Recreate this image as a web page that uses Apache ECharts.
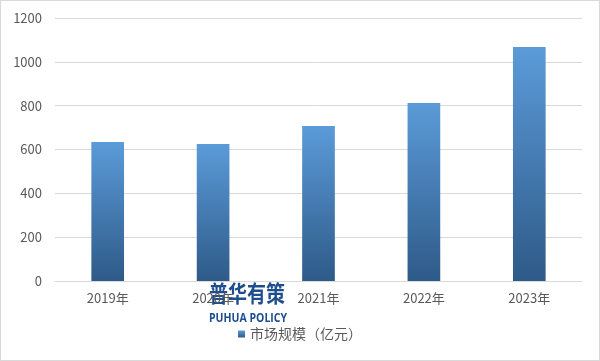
<!DOCTYPE html>
<html><head><meta charset="utf-8">
<script src="https://cdn.jsdelivr.net/npm/echarts@6/dist/echarts.min.js"></script>
<style>html,body{margin:0;padding:0;background:#fff}#c{width:600px;height:361px;box-sizing:border-box;border:1px solid #d9d9d9}</style>
</head><body><div id="c"></div>
<script>
var categories = ['2019年','2020年','2021年','2022年','2023年'];
var values = [634, 625, 707, 812, 1068];
var seriesName = '市场规模（亿元）';
var chart = echarts.init(document.getElementById('c'));
var font = '"Microsoft YaHei","Noto Sans CJK SC",sans-serif';
chart.setOption({
  animation:false,
  grid:{left:54,right:17,top:17,bottom:79},
  xAxis:{type:'category',data:categories,
    axisLine:{lineStyle:{color:'#d9d9d9'}},axisTick:{show:false},
    axisLabel:{color:'#595959',fontSize:13,margin:11,fontFamily:font}},
  yAxis:{type:'value',min:0,max:1200,interval:200,
    axisLine:{show:false},axisTick:{show:false},
    splitLine:{lineStyle:{color:'#d9d9d9'}},
    axisLabel:{color:'#595959',fontSize:13,margin:13,fontFamily:font,formatter:function(v){return String(v);}}},
  legend:{bottom:14,left:'center',itemWidth:7,itemHeight:7,icon:'rect',itemGap:5,
    textStyle:{color:'#595959',fontSize:14,fontFamily:font},data:[seriesName]},
  series:[{name:seriesName,type:'bar',data:values,barWidth:'31%',
    itemStyle:{color:new echarts.graphic.LinearGradient(0,0,0,1,[{offset:0,color:'#5b9bd9'},{offset:1,color:'#2e5a88'}])}}],
  graphic:[
    {type:'text',x:208,y:281,scaleY:1.2,style:{text:'普华有策',fill:'#1f4e8f',font:'bold 19px "Noto Sans CJK SC",sans-serif'}},
    {type:'text',x:208,y:311,scaleY:1.15,style:{text:'PUHUA POLICY',fill:'#1f4e8f',font:'bold 10.5px "Open Sans",sans-serif'}}
  ]
});
</script></body></html>
